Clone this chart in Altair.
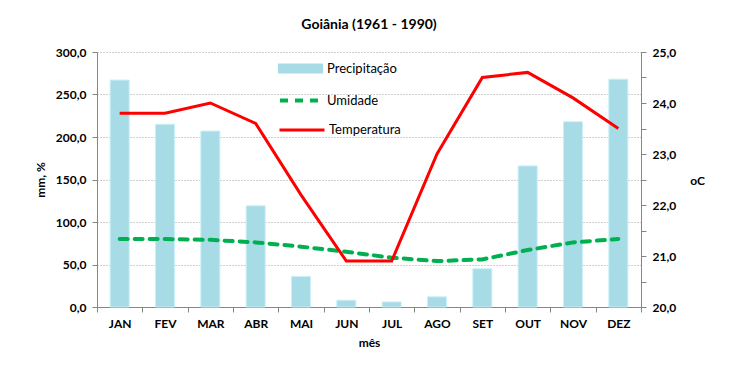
import altair as alt
import pandas as pd

meses = ["JAN", "FEV", "MAR", "ABR", "MAI", "JUN", "JUL", "AGO", "SET", "OUT", "NOV", "DEZ"]
precipitacao = [267.0, 215.0, 207.0, 119.0, 36.0, 8.0, 6.0, 12.0, 45.0, 166.0, 218.0, 268.0]
umidade = [80.0, 80.0, 79.0, 76.0, 71.0, 65.0, 58.0, 54.0, 56.0, 67.0, 76.0, 80.0]
temperatura = [23.8, 23.8, 24.0, 23.6, 22.2, 20.9, 20.9, 23.0, 24.5, 24.6, 24.1, 23.5]

df = pd.DataFrame({
    "mes": meses,
    "prec": precipitacao,
    "umid": umidade,
    "temp": temperatura,
    "s1": "Precipitação",
    "s2": "Umidade",
    "s3": "Temperatura",
})

FONT = "Lato"
xenc = alt.X("mes:N", sort=meses,
             scale=alt.Scale(paddingInner=0, paddingOuter=0),
             axis=alt.Axis(title="mês", labelAngle=0, tickBand="extent",
                           labelFontWeight="bold", labelFontSize=12, labelPadding=6,
                           titleFontWeight="bold", titleFontSize=12, titlePadding=8,
                           domainColor="#868686", tickColor="#868686", tickSize=5,
                           grid=False))

leg_common = dict(orient="none", title=None, labelFontSize=13, labelFont=FONT,
                  labelColor="black", symbolSize=2025, padding=0)

bars = alt.Chart(df).mark_bar(width=alt.RelativeBandSize(0.42), stroke="#c9f0f6",
                              strokeWidth=1).encode(
    x=xenc,
    y=alt.Y("prec:Q", scale=alt.Scale(domain=[0, 300], nice=False),
            axis=alt.Axis(title="mm, %", values=[0, 50, 100, 150, 200, 250, 300],
                          labelExpr="replace(format(datum.value, '.1f'), '.', ',')",
                          labelFontWeight="bold", labelFontSize=12, labelPadding=6,
                          titleFontWeight="bold", titleFontSize=12, titlePadding=8,
                          domainColor="#868686", tickColor="#868686", tickSize=5,
                          grid=True, gridDash=[1, 2], gridColor="#a0a0a0")),
    color=alt.Color("s1:N", scale=alt.Scale(domain=["Precipitação"], range=["#a7dbe6"]),
                    legend=alt.Legend(legendX=181, legendY=-6, labelOffset=4,
                                      symbolType="M-1,-0.22H1V0.22H-1Z",
                                      symbolStrokeWidth=0, **leg_common)),
)

hum = alt.Chart(df).mark_line(strokeWidth=4, strokeDash=[8, 7], strokeCap="round").encode(
    x=xenc,
    y=alt.Y("umid:Q", scale=alt.Scale(domain=[0, 300], nice=False)),
    color=alt.Color("s2:N", scale=alt.Scale(domain=["Umidade"], range=["#00b050"]),
                    legend=alt.Legend(legendX=181, legendY=24, symbolType="stroke",
                                      labelOffset=0,
                                      symbolDash=[8, 7], symbolStrokeWidth=4,
                                      **leg_common)),
)

temp = alt.Chart(df).mark_line(strokeWidth=3).encode(
    x=xenc,
    y=alt.Y("temp:Q", scale=alt.Scale(domain=[20, 25], nice=False),
            axis=alt.Axis(orient="right", title="oC",
                          values=[20, 20.5, 21, 21.5, 22, 22.5, 23, 23.5, 24, 24.5, 25],
                          labelExpr="datum.value % 1 == 0 ? replace(format(datum.value, '.1f'), '.', ',') : ''",
                          labelFontWeight="bold", labelFontSize=12, labelPadding=6,
                          titleFontWeight="bold", titleFontSize=12, titleAngle=0,
                          titleX=56, titleY=128, titleAlign="center", titleBaseline="middle",
                          domainColor="#868686", tickColor="#868686", tickSize=5,
                          grid=False)),
    color=alt.Color("s3:N", scale=alt.Scale(domain=["Temperatura"], range=["#ff0000"]),
                    legend=alt.Legend(legendX=181, legendY=54, symbolType="stroke",
                                      labelOffset=3,
                                      symbolStrokeWidth=3, **leg_common)),
)

left = alt.layer(bars, hum).resolve_scale(color="independent")

chart = alt.layer(left, temp).resolve_scale(y="independent", color="independent").properties(
    width=544, height=255,
    title=alt.TitleParams("Goiânia (1961 - 1990)", fontSize=14, fontWeight="bold",
                          font=FONT, anchor="middle", offset=14, color="black"),
    autosize=alt.AutoSizeParams(type="none"),
    padding={"left": 89, "top": 44, "right": 76, "bottom": 56},
).configure_view(stroke=None).configure_axis(labelFont=FONT, titleFont=FONT,
                                             labelColor="black", titleColor="black")

chart.save("out.html", embed_options={"renderer": "svg", "actions": False})
